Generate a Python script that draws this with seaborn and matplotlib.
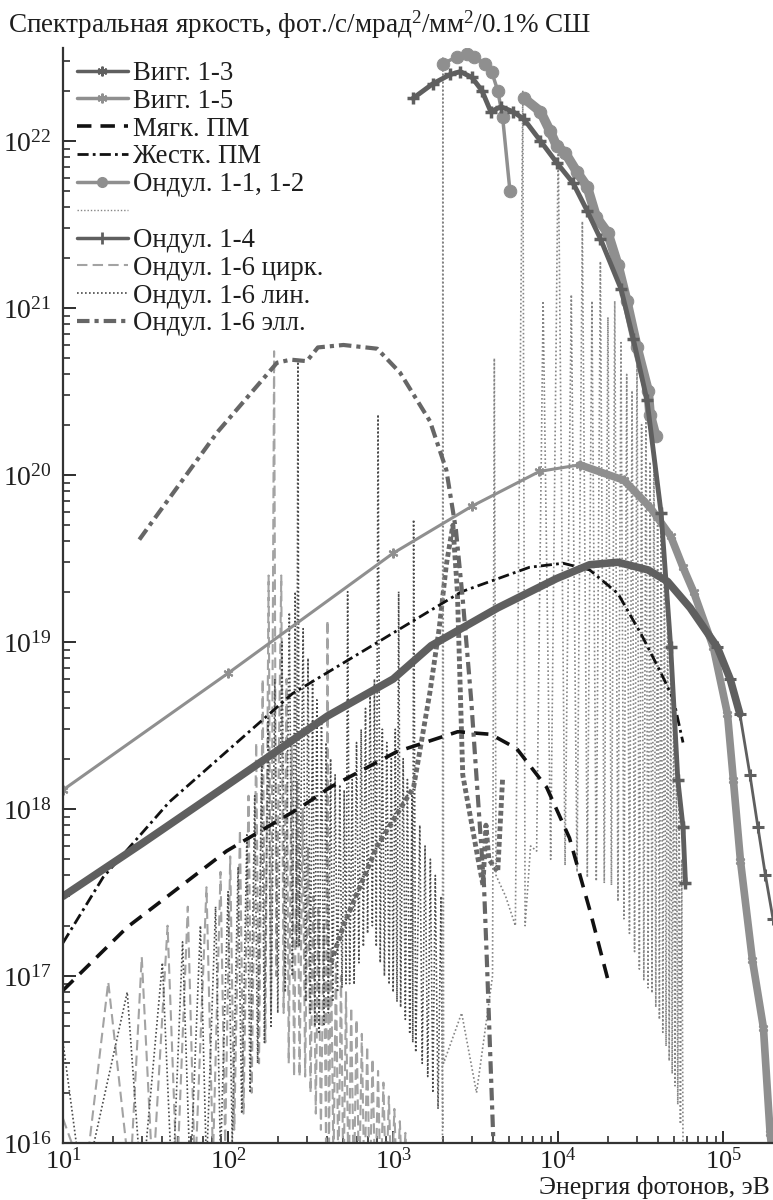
import numpy as np
import pandas as pd
import matplotlib
matplotlib.use("Agg")
import matplotlib.pyplot as plt
import seaborn as sns
from matplotlib.lines import Line2D
from matplotlib.ticker import FixedLocator, NullFormatter

# ---------------- data ----------------
# Wiggler 1-3
E_w13 = [10, 30, 100, 400, 1000, 1700, 4300, 9800, 15500, 23000, 35000, 46000,
         63000, 92000, 110000, 126000, 145000, 162000, 180000, 200000]
B_w13 = [3.0e17, 6.2e17, 1.4e18, 3.6e18, 6.0e18, 9.5e18, 1.6e19, 2.4e19, 2.9e19,
         3.0e19, 2.7e19, 2.3e19, 1.6e19, 9.3e18, 6.0e18, 3.7e18, 1.6e18, 7.8e17,
         4.0e17, 2.2e17]
# Wiggler 1-5
E_w15 = [10, 100, 1000, 3000, 7700, 13500, 25000, 36000, 48000, 57000, 66000,
         87000, 106000, 115000, 127000, 150000, 175000, 192000, 200000]
B_w15 = [1.3e18, 6.5e18, 3.4e19, 6.5e19, 1.05e20, 1.15e20, 9.3e19, 6.4e19, 4.3e19,
         2.8e19, 2.0e19, 9.3e18, 3.7e18, 1.5e18, 4.9e17, 1.25e17, 4.9e16, 1.15e16, 8e15]
# Soft bending magnet
E_soft = [10, 24.5, 98, 274, 416, 1050, 2460, 3900, 5600, 8500, 11700, 15500, 20000]
B_soft = [8.2e16, 1.96e17, 5.6e17, 1.02e18, 1.35e18, 2.2e18, 2.9e18, 2.8e18, 2.3e18,
          1.35e18, 6.7e17, 2.5e17, 9.5e16]
# Hard bending magnet
E_hard = [10, 17.5, 44, 245, 2600, 6700, 10700, 15500, 23000, 32000, 42000, 50000, 57000]
B_hard = [1.58e17, 3.9e17, 1.1e18, 4.9e18, 2.0e19, 2.8e19, 2.96e19, 2.7e19, 1.95e19,
          1.1e19, 6.5e18, 4.5e18, 2.5e18]
# Undulator 1-1, 1-2 (two segments)
E_u11a = [2000, 2450, 2800, 3100, 3600, 3950, 4300, 4600, 5100]
B_u11a = [2.9e22, 3.2e22, 3.3e22, 3.2e22, 2.9e22, 2.6e22, 2.0e22, 1.4e22, 5.0e21]
E_u11b = [6200, 7800, 8900, 9800, 11000, 13000, 15000, 17000, 20000, 23000, 26000,
          30000, 35000, 36000, 39000]
B_u11b = [1.8e22, 1.5e22, 1.15e22, 9.3e21, 8.5e21, 6.5e21, 5.3e21, 3.5e21, 2.8e21,
          1.8e21, 1.1e21, 5.8e20, 3.2e20, 2.3e20, 1.7e20]
# Undulator 1-4
E_u14 = [1320, 1740, 2220, 2550, 3000, 3450, 3900, 4500, 5300, 6200, 7800, 9800,
         12300, 15000, 18000, 24000, 28500, 34500, 42000, 48000, 53000, 57000, 59000]
B_u14 = [1.8e22, 2.2e22, 2.5e22, 2.6e22, 2.4e22, 2.0e22, 1.5e22, 1.6e22, 1.5e22,
         1.35e22, 1.0e22, 7.4e21, 5.6e21, 3.8e21, 2.6e21, 1.3e21, 6.5e20, 2.8e20,
         5.9e19, 9.3e18, 1.5e18, 7.8e17, 3.6e17]
# Undulator 1-6 elliptical
E_ell = [29, 34, 86, 198, 240, 300, 350, 500, 800, 1100, 1670, 2100, 2400, 2640,
         2970, 3470, 3550, 3700, 4050]
B_ell = [4.1e19, 5.1e19, 1.8e20, 4.7e20, 4.9e20, 4.8e20, 5.8e20, 6.0e20, 5.7e20,
         4.1e20, 2.1e20, 1.07e20, 4.7e19, 1.8e19, 4.5e18, 4.8e17, 3.5e17, 1.2e17, 1e16]
# Undulator 1-6 circular (successive peaks and troughs)
E_circ = [10, 13.6, 18.8, 25.5, 30, 35, 43, 49, 57, 63, 74, 81, 90, 96, 103, 109,
          118, 124, 133, 139, 148, 154, 162, 168, 176, 182, 190, 196, 204, 210, 217,
          226, 233, 243, 251, 262, 271, 283, 293, 305, 316, 328, 340, 352, 365, 380,
          392, 400, 408, 420, 435, 450, 466, 483, 500, 518, 537, 557, 578, 600, 622,
          646, 670, 696, 722, 750, 780, 810, 840, 873, 906, 942, 978, 1017, 1056,
          1098, 1140, 1186, 1232, 1280]
B_circ = [1.4e16, 6e15, 9.2e16, 6e15, 1.3e17, 6e15, 2.0e17, 6e15, 2.6e17, 6e15,
          3.4e17, 8e15, 4.2e17, 1e16, 5.2e17, 1.2e16, 7.5e17, 1.5e16, 1.2e18, 2e16,
          2.5e18, 3e16, 6e18, 4e16, 2.5e19, 6e16, 5.5e20, 1e17, 3e18, 2.5e19, 6e16,
          6e18, 3e16, 2.5e18, 2.5e16, 1.5e18, 2.5e16, 1e18, 2.5e16, 6e17, 2e16,
          3e17, 1.5e16, 2.5e17, 1.2e16, 2e17, 1e16, 1.35e19, 8e15, 1.5e17, 7e15,
          1.2e17, 6e15, 1e17, 5e15, 8e16, 5e15, 6.5e16, 5e15, 5.5e16, 5e15, 4.5e16,
          5e15, 3.8e16, 5e15, 3.2e16, 5e15, 2.7e16, 5e15, 2.3e16, 5e15, 1.9e16,
          5e15, 1.6e16, 5e15, 1.35e16, 5e15, 1.15e16, 5e15, 9.5e15]
# Undulator 1-6 linear (successive peaks and troughs)
E_lin = [10, 13.2, 24.5, 30, 40, 46, 53, 59, 68, 74, 84, 90, 100, 106, 115, 121,
         130, 136, 145, 151, 160, 166, 175, 182, 192, 200, 212, 222, 235, 245, 255,
         260, 265, 270, 285, 295, 305, 315, 325, 335, 345, 356, 368, 380, 392, 405,
         418, 430, 445, 460, 475, 490, 505, 518, 530, 545, 565, 580, 600, 620, 640,
         660, 680, 700, 725, 748, 770, 790, 810, 835, 860, 885, 915, 945, 975, 1000,
         1030, 1055, 1080, 1110, 1150, 1185, 1220, 1260, 1300, 1315, 1330, 1370,
         1450, 1500, 1560, 1620, 1680, 1740, 1800, 1870, 1950, 2000]
B_lin = [4e16, 5e15, 8e16, 5e15, 1.2e17, 5e15, 1.6e17, 6e15, 2.0e17, 7e15, 2.6e17,
         8e15, 3.2e17, 1e16, 4.5e17, 1.5e16, 7e17, 2e16, 1.2e18, 3e16, 2e18, 4e16,
         3.5e18, 5e16, 6e18, 6e16, 1e19, 8e16, 1.5e19, 1e17, 2e19, 1.5e17, 4.9e20,
         1.5e17, 1.2e19, 7e16, 8e18, 6e16, 6e18, 5e16, 4.5e18, 4.5e16, 3.5e18, 5e16,
         2.5e18, 6e16, 2e18, 7e16, 1.6e18, 8e16, 1.4e18, 8.5e16, 1.3e18, 9e16, 2e19,
         9e16, 1.5e18, 8.9e16, 2.5e18, 1.2e17, 3e18, 1.5e17, 4e18, 1.8e17, 5e18,
         2e17, 6e18, 1.5e17, 2.3e20, 1.2e17, 3e18, 1e17, 2.5e18, 8.9e16, 2e18, 8e16,
         3e18, 7e16, 2e19, 6.5e16, 2e18, 5.5e16, 1.5e18, 4.5e16, 1.2e18, 4e16,
         5.4e19, 3.5e16, 8e17, 3e16, 6e17, 2.5e16, 5e17, 2e16, 4e17, 1.6e16, 3e17, 1.2e16]
# Undulator 1-6 linear: broad first-harmonic band
E_lin_band = [420, 500, 800, 1330, 1670, 1900, 2100, 2300, 2450, 2640, 3270, 3500,
              3650, 3800, 4300, 4600]
B_lin_band = [1.2e17, 2e17, 6e17, 1.35e18, 5e18, 1.2e19, 2.9e19, 5e19, 2e19, 1.6e18,
              5e17, 3.5e17, 8e17, 5e17, 4.2e17, 1.5e18]
# Unlabelled dotted (undulator harmonics, successive peaks and troughs)
E_harm = [1990, 2000, 2020, 2600, 3200, 4000, 4100, 4200, 4800, 5500, 6100, 6300,
          6800, 7400, 8100, 9000, 10000, 11000, 12000, 13000, 14000, 15000, 16000,
          17000, 18000, 19000, 20000, 21000, 22000, 23000, 24000, 25000, 26000,
          27000, 28000, 29000, 30000, 31000, 32000, 33000, 34000, 35000, 36000,
          37000, 38000, 39000, 40000, 41000, 42000, 43000, 44000, 45000, 46000,
          47000, 48000, 49000, 50000, 51000, 52000, 53000, 54000, 55000, 56000, 57000]
B_harm = [8e15, 3.2e22, 3e16, 6e16, 2e16, 1e17, 5e20, 4e17, 3e17, 2e17, 2e22, 2e17,
          6e17, 5.6e17, 1.1e21, 5e17, 1e22, 4.6e17, 1.2e21, 4.2e17, 3.3e21, 3.9e17,
          1.1e21, 3.7e17, 1.9e21, 3.6e17, 8.8e20, 3.5e17, 1.1e21, 2.8e17, 6.2e20,
          2.2e17, 4e20, 1.8e17, 3.2e20, 1.4e17, 5e20, 1.1e17, 2e20, 9.5e16, 3e20,
          8.5e16, 1.2e20, 7.9e16, 1.5e20, 6.5e16, 6e19, 5.5e16, 7e19, 4.6e16, 2.5e19,
          3.8e16, 2e19, 3.1e16, 8e18, 2.6e16, 5e18, 2.2e16, 2e18, 1.7e16, 1.2e18,
          1.3e16, 5e17, 1e16]

x_major = [1e1, 1e2, 1e3, 1e4, 1e5]
y_major = [1e16, 1e17, 1e18, 1e19, 1e20, 1e21, 1e22]

# ---------------- styling ----------------
sns.set_theme(style="ticks")
plt.rcParams['font.family'] = ['Liberation Serif', 'DejaVu Serif']
plt.rcParams['mathtext.fontset'] = 'custom'
plt.rcParams['mathtext.rm'] = 'Liberation Serif'
plt.rcParams['mathtext.it'] = 'Liberation Serif:italic'
plt.rcParams['mathtext.bf'] = 'Liberation Serif:bold'

DARK = '#5f5f5f'
LIGHT = '#8f8f8f'
CIRC = '#a3a3a3'
LIN = '#4a4a4a'
HARM = '#858585'
TXT = '#1e1e1e'
FS = 19.5

fig = plt.figure(figsize=(7.73, 12.0), dpi=100)
ax = fig.add_axes([63 / 773, 57 / 1200, 1 - 63 / 773, (1143 - 48) / 1200])
ax.set_xscale('log')
ax.set_yscale('log')


def draw(E, B, **kw):
    df = pd.DataFrame({'E': E, 'B': B})
    sns.lineplot(data=df, x='E', y='B', ax=ax, estimator=None, sort=False,
                 legend=False, **kw)


DOT = (0, (1, 1.4))
ASTER = (6, 2, 0)
# oscillating undulator spectra first (background)
draw(E_circ, B_circ, color=CIRC, lw=1.5, linestyle=(0, (5, 2.5)))
draw(E_lin, B_lin, color=LIN, lw=1.2, linestyle=DOT)
draw(E_lin_band, B_lin_band, color='#6a6a6a', lw=3.5, linestyle=(0, (1, 0.6)))
draw(E_harm, B_harm, color=HARM, lw=1.2, linestyle=DOT)
# bending magnets
draw(E_soft, B_soft, color='#111111', lw=2.6, linestyle=(0, (4, 2.5)))
draw(E_hard, B_hard, color='#111111', lw=2.0, linestyle=(0, (4, 1.5, 1, 1.5)))
# elliptical
draw(E_ell, B_ell, color='#666666', lw=3.0, linestyle=(0, (3, 1.2, 1, 1.2)))
# wigglers
draw(E_w15, B_w15, color=LIGHT, lw=2.2, marker=ASTER, markersize=7,
     markeredgecolor=LIGHT, markeredgewidth=1.5)
draw(E_w15[5:], B_w15[5:], color=LIGHT, lw=5.5)
draw(E_w13[:16], B_w13[:16], color=DARK, lw=5.5)
draw(E_w13[13:], B_w13[13:], color=DARK, lw=2.0, marker='+', markersize=9,
     markeredgecolor=DARK, markeredgewidth=2.2)
# undulators
draw(E_u11a, B_u11a, color=LIGHT, lw=2.5, marker='o', markersize=9,
     markeredgecolor=LIGHT, markerfacecolor=LIGHT)
draw(E_u11b, B_u11b, color=LIGHT, lw=7, marker='o', markersize=9,
     markeredgecolor=LIGHT, markerfacecolor=LIGHT)
draw(E_u14, B_u14, color=DARK, lw=3.5, marker='+', markersize=9,
     markeredgecolor=DARK, markeredgewidth=2.5)

ax.set_xlim(10, 2e5)
ax.set_ylim(1e16, 3.6e22)

for s in ['top', 'right']:
    ax.spines[s].set_visible(False)
for s in ['left', 'bottom']:
    ax.spines[s].set_linewidth(1.6)
    ax.spines[s].set_color('#333333')

x_minor = [m * d for d in [1e1, 1e2, 1e3, 1e4, 1e5] for m in range(2, 10) if m * d <= 2e5]
y_minor = [m * d for d in y_major for m in range(2, 10) if m * d <= 3.6e22]
ax.xaxis.set_major_locator(FixedLocator(x_major))
ax.yaxis.set_major_locator(FixedLocator(y_major))
ax.xaxis.set_minor_locator(FixedLocator(x_minor))
ax.yaxis.set_minor_locator(FixedLocator(y_minor))
ax.xaxis.set_minor_formatter(NullFormatter())
ax.yaxis.set_minor_formatter(NullFormatter())
ax.set_xticklabels([r'$\mathdefault{10^{%d}}$' % int(np.log10(v)) for v in x_major])
ax.set_yticklabels([r'$\mathdefault{10^{%d}}$' % int(np.log10(v)) for v in y_major])
ax.tick_params(which='major', direction='in', length=9, width=1.3, colors=TXT,
               labelsize=20)
ax.tick_params(axis='x', which='major', pad=3, labelsize=19)
ax.tick_params(axis='y', which='major', pad=8)
ax.tick_params(which='minor', direction='in', length=5, width=1.1, colors=TXT)
ax.set_xlabel('')
ax.set_ylabel('')

fig.text(8 / 773, 1 - 9 / 1200, 'Спектральная яркость, фот./с/мрад$^2$/мм$^2$/0.1% СШ',
         ha='left', va='top', fontsize=FS, color=TXT)
fig.text(1 - 3 / 773, 6 / 1200, 'Энергия фотонов, эВ', ha='right', va='baseline',
         fontsize=18.5, color=TXT)

handles = [
    Line2D([], [], color=DARK, lw=2.5, marker=ASTER, markersize=7, markeredgewidth=1.5),
    Line2D([], [], color=LIGHT, lw=2.5, marker=ASTER, markersize=7, markeredgewidth=1.5),
    Line2D([], [], color='#111111', lw=2.6, linestyle=(0, (4, 2.5))),
    Line2D([], [], color='#111111', lw=2.0, linestyle=(0, (4, 1.5, 1, 1.5))),
    Line2D([], [], color=LIGHT, lw=2.5, marker='o', markersize=7),
    Line2D([], [], color=HARM, lw=1.0, linestyle=DOT),
    Line2D([], [], color=DARK, lw=2.5, marker='+', markersize=8, markeredgewidth=2),
    Line2D([], [], color=CIRC, lw=1.5, linestyle=(0, (5, 2.5))),
    Line2D([], [], color=LIN, lw=1.2, linestyle=DOT),
    Line2D([], [], color='#666666', lw=3.0, linestyle=(0, (3, 1.2, 1, 1.2))),
]
labels = ['Вигг. 1-3', 'Вигг. 1-5', 'Мягк. ПМ', 'Жестк. ПМ', 'Ондул. 1-1, 1-2', ' ',
          'Ондул. 1-4', 'Ондул. 1-6 цирк.', 'Ондул. 1-6 лин.', 'Ондул. 1-6 элл.']
leg = ax.legend(handles, labels, loc='upper left',
                bbox_to_anchor=(14 / 710, 1 - 13 / 1095),
                frameon=False, fontsize=19.3, handlelength=1.9, handletextpad=0.2,
                labelspacing=0.105, borderpad=0, borderaxespad=0)
for t in leg.get_texts():
    t.set_color(TXT)

fig.savefig('out.png', dpi=100)
